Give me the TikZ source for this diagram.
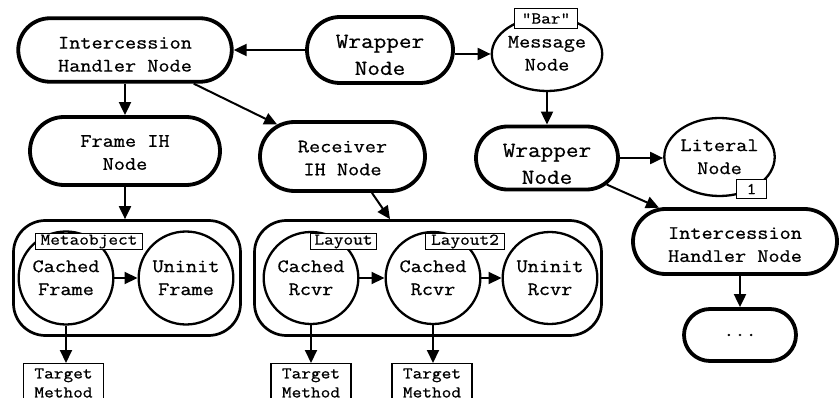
\documentclass[tikz,border=0pt]{standalone}
\usepackage{fontspec}
\setmonofont{Latin Modern Mono}[FakeStretch=1.14,FakeBold=0.7]
\usetikzlibrary{arrows.meta,shapes.misc,shapes.geometric}

% text block lowered by #1 pt without changing the box used for centring
\newcommand\tx[2]{\raisebox{-#1pt}[\height][\depth]{\begin{tabular}{@{}c@{}}#2\end{tabular}}}

\begin{document}
\begin{tikzpicture}[x=1pt,y=-1pt,
  every node/.style={inner sep=0pt},
  bigfont/.style={font=\ttfamily\fontsize{19}{23}\selectfont},
  wrapfont/.style={font=\ttfamily\fontsize{21.5}{27}\selectfont},
  tagfont/.style={font=\ttfamily\fontsize{16.5}{19}\selectfont},
  pill/.style={rounded rectangle, draw, line width=3.8pt, fill=white, bigfont},
  blob/.style={ellipse, draw, line width=2.3pt, fill=white, bigfont},
  cluster/.style={rectangle, rounded corners=32pt, draw, line width=2.7pt},
  tag/.style={rectangle, draw, line width=1.3pt, fill=white, tagfont},
  arr/.style={line width=2pt, -{Triangle[length=13pt,width=12pt]}},
]
\useasboundingbox (0,0) rectangle (840,398);
\clip (0,0) rectangle (840,398);

% upper row
\node[pill, minimum width=213.5pt, minimum height=63.5pt] (ih1) at (125,50) {\tx{5.5}{Intercession\\Handler Node}};
\node[pill, wrapfont, minimum width=146pt, minimum height=66pt] (wrap1) at (380,50) {\tx{6}{Wrapper\\Node}};
\node[blob, minimum width=107pt, minimum height=74pt] (msg) at (547,54) {\tx{0.5}{Message\\Node}};
\node[tag, minimum width=63pt, minimum height=20pt] (bar) at (546,18.5) {"Bar"};

% second row
\node[pill, minimum width=190pt, minimum height=68pt] (fih) at (125,151) {\tx{2.7}{Frame IH\\Node}};
\node[pill, minimum width=165pt, minimum height=69pt] (rih) at (342.5,156.5) {\tx{2.7}{Receiver\\IH Node}};
\node[pill, wrapfont, minimum width=142pt, minimum height=63pt] (wrap2) at (547,158) {\tx{7}{Wrapper\\Node}};
\node[blob, minimum width=107pt, minimum height=78pt] (lit) at (719.5,157) {\tx{1}{Literal\\Node}};
\node[tag, minimum width=30pt, minimum height=19pt] (one) at (751.5,189) {1};

% right column
\node[pill, minimum width=204pt, minimum height=65pt] (ih2) at (735,241.5) {\tx{4.3}{Intercession\\Handler Node}};
\node[pill, minimum width=112pt, minimum height=52pt] (dots) at (740,335) {...};

% inline caches
\node[cluster, minimum width=227pt, minimum height=115pt] (fcont) at (127,278) {};
\node[cluster, minimum width=347pt, minimum height=115pt] (rcont) at (428,278) {};

\node[blob, minimum width=86pt, minimum height=93pt] (cf) at (66,278) {\tx{1}{Cached\\Frame}};
\node[blob, minimum width=86pt, minimum height=93pt] (uf) at (186,278) {\tx{1}{Uninit\\Frame}};
\node[blob, minimum width=91pt, minimum height=92pt] (cr1) at (311,278) {\tx{1}{Cached\\Rcvr}};
\node[blob, minimum width=91pt, minimum height=92pt] (cr2) at (433,278) {\tx{1}{Cached\\Rcvr}};
\node[blob, minimum width=82pt, minimum height=92pt] (ur) at (550,278) {\tx{1}{Uninit\\Rcvr}};

\node[tag, minimum width=107pt, minimum height=16pt] (meta) at (89,241.5) {Metaobject};
\node[tag, minimum width=66pt, minimum height=16pt] (lay1) at (343.5,241.5) {Layout};
\node[tag, minimum width=79pt, minimum height=16pt] (lay2) at (465,241.5) {Layout2};

% call targets
\node[tag, anchor=north, minimum width=80pt, inner ysep=1.5pt] (tm1) at (63.5,363) {\tx{0}{Target\\Method}};
\node[tag, anchor=north, minimum width=80pt, inner ysep=1.5pt] (tm2) at (311,363) {\tx{0}{Target\\Method}};
\node[tag, anchor=north, minimum width=80pt, inner ysep=1.5pt] (tm3) at (432,363) {\tx{0}{Target\\Method}};

% connectors
\draw[arr] (wrap1.west) -- (wrap1.west -| ih1.east);
\draw[arr] (wrap1.east |- msg.west) -- (msg.west);
\draw[arr] (ih1.south) -- (ih1.south |- fih.north);
\draw[arr] (ih1) -- (rih);
\draw[arr] (fih.south) -- (fih.south |- fcont.north);
\draw[arr] (rih.-51) -- ([xshift=-38pt]rcont.north);
\draw[arr] (msg.south) -- (msg.south |- wrap2.north);
\draw[arr] (wrap2.east) -- (wrap2.east -| lit.west);
\draw[arr] (wrap2) -- (ih2);
\draw[arr] (dots.north |- ih2.south) -- (dots.north);
\draw[arr] (cf.east) -- (uf.west);
\draw[arr] (cr1.east) -- (cr2.west);
\draw[arr] (cr2.east) -- (ur.west);
\draw[arr] (cf.south) -- (cf.south |- tm1.north);
\draw[arr] (cr1.south) -- (cr1.south |- tm2.north);
\draw[arr] (cr2.south) -- (cr2.south |- tm3.north);
\end{tikzpicture}
\end{document}
